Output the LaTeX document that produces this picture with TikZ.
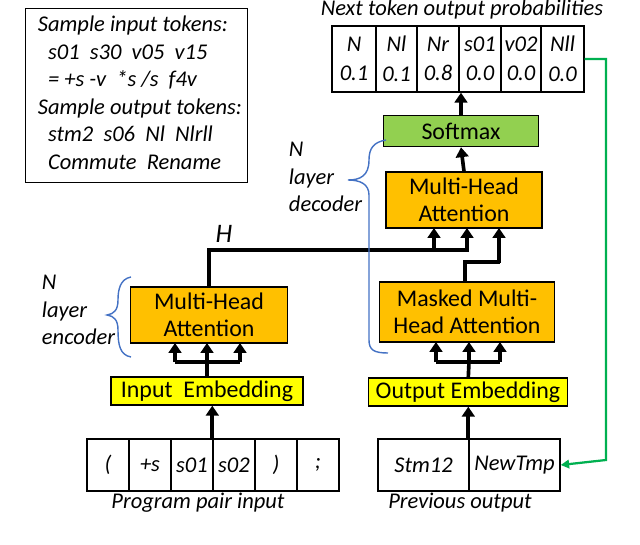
\documentclass[tikz,border=0pt]{standalone}
\usepackage{fontspec}
\setmainfont{Carlito}
\usetikzlibrary{arrows.meta,decorations.pathreplacing}
\begin{document}
\begin{tikzpicture}[x=0.025cm,y=-0.025cm,
  box/.style={draw=black,line width=1pt,inner sep=0pt,font=\fontsize{17}{19.5}\selectfont,align=center},
  cell/.style={draw=black,line width=1pt,inner sep=0pt,minimum height=1.65cm,font=\fontsize{16}{21}\selectfont\itshape,align=center},
  lab/.style={font=\fontsize{16}{18}\selectfont\itshape},
  fat/.style={line width=2.6pt,-{Triangle[length=7pt,width=9pt]}},
  bar/.style={line width=2.6pt},
  brc/.style={draw={rgb,255:red,68;green,114;blue,196},line width=1pt}]
\useasboundingbox (0,0) rectangle (640,545);
\definecolor{orng}{RGB}{255,192,0}
\definecolor{yel}{RGB}{255,255,0}
\definecolor{grn}{RGB}{146,208,80}
\definecolor{lgrn}{RGB}{0,176,80}
% sample tokens box
\node[draw=black,line width=0.8pt,minimum width=5.55cm,minimum height=4.35cm,anchor=north west,inner sep=0pt] (sample) at (25,8) {};
\node[align=left,anchor=north west,font=\fontsize{16}{19.6}\selectfont\itshape] (stext) at (33,11)
 {Sample input tokens:\\\ \ s01\ \ s30\ \ v05\ \ v15\\\ \ =\ +s\ -v\ \ *s\ /s\ \ f4v\\Sample output tokens:\\\ \ stm2\ \ s06\ \ Nl\ \ Nlrll\\\ \ Commute\ \ Rename};
% output probabilities table
\node[lab] (title) at (462,10) {Next token output probabilities};
\foreach \i/\a/\b/\t/\v in {1/332/376/N/0.1,2/376/417/Nl/0.1,3/417/459/Nr/0.8,4/459/501/s01/0.0,5/501/541/v02/0.0,6/541/584/Nll/0.0}{
  \node[cell,minimum width={(\b-\a)*0.025cm}] (p\i) at ({(\a+\b)/2},59) {\t\\\v};
}
\node[box,fill=grn,minimum width=3.88cm,minimum height=0.78cm] (soft) at (461,131) {Softmax};
\node[box,fill=orng,minimum width=3.9cm,minimum height=1.4cm] (dec) at (464,200) {Multi-Head\\Attention};
\node[box,fill=orng,minimum width=4.38cm,minimum height=1.5cm] (mask) at (467,312) {Masked Multi-\\Head Attention};
\node[box,fill=orng,minimum width=3.93cm,minimum height=1.4cm] (enc) at (209,315) {Multi-Head\\Attention};
\node[box,fill=yel,minimum width=4.8cm,minimum height=0.7cm] (iemb) at (207,391) {Input\ \ Embedding};
\node[box,fill=yel,minimum width=4.98cm,minimum height=0.7cm] (oemb) at (468,392) {Output Embedding};
% input tokens
\foreach \i/\t in {1/(,2/+s,3/s01,4/s02,5/),6/;}{
  \node[cell,minimum width={42*0.025cm},minimum height=1.3cm] (in\i) at ({87+42*(\i-0.5)},465) {\t};
}
\node[lab] (ilab) at (198,503) {Program pair input};
\node[cell,minimum width={91*0.025cm},minimum height=1.3cm] (o1) at (423.5,465) {Stm12};
\node[cell,minimum width={91*0.025cm},minimum height=1.3cm] (o2) at (514.5,465) {NewTmp};
\node[lab] (olab) at (460,503) {Previous output};
% arrows
\draw[fat] (soft.north) -- (p4.south west -| soft.north);
\draw[fat] (dec.north) -- (soft.south);
\draw[fat] (in4.north west) -- (iemb.south -| in4.north west);
\draw[fat] (o2.north west) -- (oemb.south -| o2.north west);
\draw[bar] (iemb.north) -- (207,362);
\draw[bar] (175,362) -- (240,362);
\foreach \x in {175,207,240} \draw[fat] (\x,362) -- (\x,343);
\draw[bar] (oemb.north -| o2.north west) -- (469,362);
\draw[bar] (436,362) -- (500,362);
\foreach \x in {436,469,500} \draw[fat] (\x,362) -- (\x,342);
% encoder output H
\draw[bar] (enc.north) -- (209,250) -- (469,250);
\node[font=\fontsize{19}{21}\selectfont\itshape] (hl) at (224,234) {H};
\draw[fat] (434,250) -- (434,228);
\draw[fat] (467,251.5) -- (467,228);
\draw[bar] (mask.north -| 465,0) -- (465,262) -- (500,262);
\draw[fat] (499,263.5) -- (499,228);
% feedback
\draw[lgrn,line width=1.6pt,-{Triangle[length=6pt,width=6pt]}] (p6.east) -- (606,59) -- (606,460) -- (o2.east);
% braces
\draw[brc] (131,277) .. controls (120,279) and (118,290) .. (118,300) .. controls (118,310) and (114,314) .. (107,315)
  .. controls (114,316) and (118,320) .. (118,330) .. controls (118,345) and (120,355) .. (131,357);
\node[align=left,anchor=west,font=\fontsize{16}{19.6}\selectfont\itshape] (elab) at (37,310) {N\\layer\\encoder};
\draw[brc] (386,140) .. controls (374,142) and (369,148) .. (369,160) .. controls (369,176) and (360,180) .. (348,180)
  .. controls (360,180) and (369,184) .. (369,195) -- (369,340) .. controls (369,350) and (374,353) .. (388,353);
\node[align=left,anchor=west,font=\fontsize{16}{19.6}\selectfont\itshape] (dlab) at (284,177) {N\\layer\\decoder};
\end{tikzpicture}
\end{document}
